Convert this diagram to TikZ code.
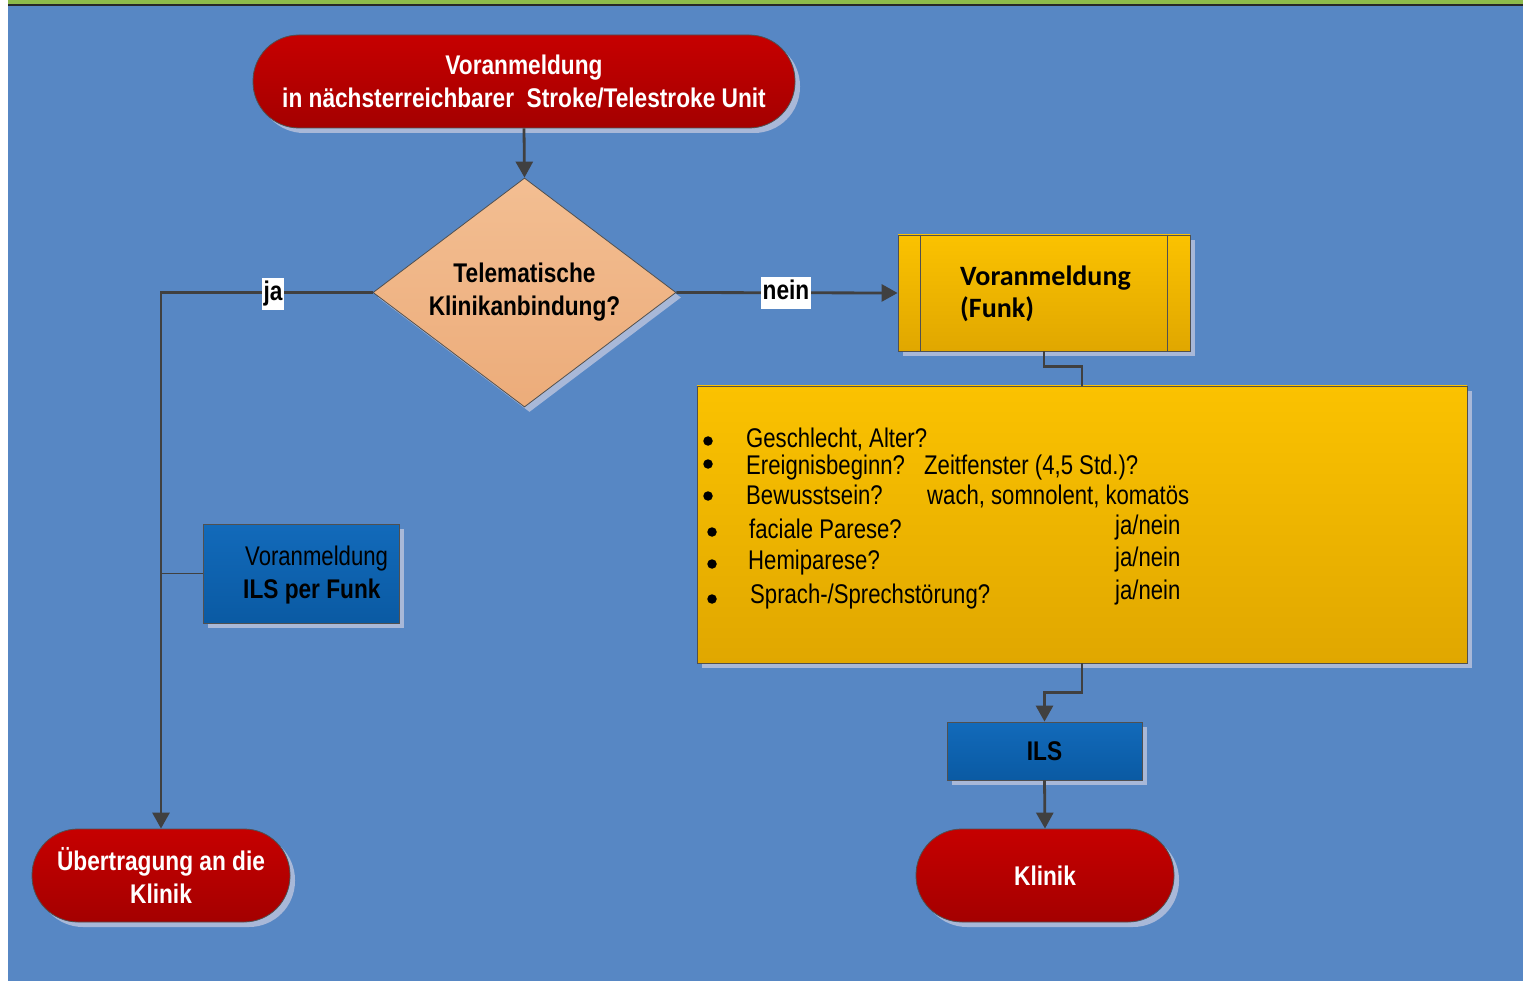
\documentclass[tikz,border=0pt]{standalone}
\usepackage{fontspec}
\setmainfont{Liberation Sans}
\newfontfamily\narrow[FakeStretch=0.82,BoldFeatures={FakeStretch=0.84}]{Liberation Sans}
\newfontfamily\calib{Carlito}
\usetikzlibrary{shapes.geometric,arrows.meta,shadows}
\definecolor{bgc}{RGB}{87,135,196}
\definecolor{greenc}{RGB}{141,187,76}
\definecolor{darkl}{RGB}{40,40,40}
\definecolor{redT}{RGB}{198,0,0}
\definecolor{redB}{RGB}{164,0,0}
\definecolor{goldT}{RGB}{251,194,0}
\definecolor{goldB}{RGB}{224,167,0}
\definecolor{blueT}{RGB}{18,106,186}
\definecolor{blueB}{RGB}{10,90,163}
\definecolor{peachT}{RGB}{243,190,146}
\definecolor{peachB}{RGB}{236,172,122}
\definecolor{shadc}{RGB}{168,184,216}
\definecolor{linec}{RGB}{64,64,64}
\definecolor{bordc}{RGB}{80,80,80}
\begin{document}
\begin{tikzpicture}[x=1pt,y=-1pt,
  conn/.style={draw=linec,line width=2.8pt},
  tip/.style={-{Triangle[length=16pt,width=17pt]}},
  shad/.style={drop shadow={shadow xshift=5pt,shadow yshift=-5pt,fill=shadc,opacity=1}},
  term/.style={shad,rectangle,rounded corners=46pt,top color=redT,bottom color=redB,
    draw=bordc,line width=0.8pt,text=white,
    font=\narrow\bfseries\fontsize{27}{33}\selectfont,align=center,inner sep=0pt},
  goldbox/.style={shad,rectangle,top color=goldT,bottom color=goldB,draw=bordc,line width=0.8pt,inner sep=0pt},
  bluebox/.style={shad,rectangle,top color=blueT,bottom color=blueB,draw=bordc,line width=0.8pt,inner sep=0pt},
  lbl/.style={fill=white,inner xsep=2pt,inner ysep=3pt,font=\narrow\bfseries\fontsize{27}{30}\selectfont,text height=20pt,text depth=6pt},
  lst/.style={anchor=base west,inner sep=0pt,font=\narrow\fontsize{27}{33}\selectfont},
  bul/.style={circle,fill=black,inner sep=0pt,minimum size=9.5pt},
  txt/.style={anchor=base west,inner sep=0pt}
]
\useasboundingbox (0,0) rectangle (1537,981);
\fill[white] (0,0) rectangle (1537,981);
\fill[bgc] (8,6) rectangle (1523,981);
\fill[greenc] (8,0) rectangle (1523,4.3);
\fill[darkl] (8,4.3) rectangle (1523,6.3);

% nodes
\node[term,minimum width=542pt,minimum height=93pt] (top) at (524,81.5)
  {Voranmeldung\\in nächsterreichbarer\ \ Stroke/Telestroke Unit};
\node[shad,diamond,aspect=1.32,minimum width=303pt,minimum height=229pt,inner sep=0pt,
  top color=peachT,bottom color=peachB,draw=bordc,line width=0.8pt,
  font=\narrow\bfseries\fontsize{27}{33}\selectfont,align=center] (dia) at (524.5,292.5)
  {Telematische\\Klinikanbindung?};
\node[goldbox,minimum width=292pt,minimum height=116pt] (funk) at (1044,293) {};
\draw[bordc,line width=0.8pt] ([xshift=23pt]funk.north west) -- ([xshift=23pt]funk.south west);
\draw[bordc,line width=0.8pt] ([xshift=-23pt]funk.north east) -- ([xshift=-23pt]funk.south east);
\node[txt,font=\calib\bfseries\fontsize{28}{32}\selectfont] (funkA) at (960,286) {Voranmeldung};
\node[txt,font=\calib\bfseries\fontsize{28}{32}\selectfont] (funkB) at (960,318) {(Funk)};

\node[goldbox,minimum width=770pt,minimum height=277pt] (big) at (1082,524.5) {};
\node[bul] (b1) at (708,441) {};
\node[bul] (b2) at (708,464) {};
\node[bul] (b3) at (708,496) {};
\node[bul] (b4) at (712,532) {};
\node[bul] (b5) at (712,564) {};
\node[bul] (b6) at (712,599) {};
\node[lst] (l1) at (746,447) {Geschlecht, Alter?};
\node[lst] (l2) at (746,475) {Ereignisbeginn?};
\node[lst] (l2b) at (924,475) {Zeitfenster (4,5 Std.)?};
\node[lst] (l3) at (746,504) {Bewusstsein?};
\node[lst] (l3b) at (927,504) {wach, somnolent, komatös};
\node[lst] (l4) at (749,538) {faciale Parese?};
\node[lst] (l4b) at (1115,534) {ja/nein};
\node[lst] (l5) at (748,569) {Hemiparese?};
\node[lst] (l5b) at (1115,566) {ja/nein};
\node[lst] (l6) at (750,603) {Sprach-/Sprechstörung?};
\node[lst] (l6b) at (1115,599) {ja/nein};

\node[bluebox,minimum width=195pt,minimum height=58pt,font=\narrow\bfseries\fontsize{27}{33}\selectfont] (ils) at (1044.5,751) {ILS};
\node[term,minimum width=258pt,minimum height=93pt] (klinik) at (1045,875.5) {Klinik};
\node[term,minimum width=258pt,minimum height=93pt] (ueb) at (161,875.5) {Übertragung an die\\Klinik};

\node[bluebox,minimum width=196pt,minimum height=99pt] (ilsf) at (301,573.5) {};
\node[lst] (ilsfA) at (245,565) {Voranmeldung};
\node[lst,font=\narrow\bfseries\fontsize{27}{33}\selectfont] (ilsfB) at (243,598) {ILS per Funk};

% connectors
\draw[conn,tip] (top.south) -- (dia.north);
\draw[conn,tip] (dia.west) -| (ueb.north);
\draw[conn,tip] (dia.east) -- (funk.west);
\coordinate (tap) at (161,573.5);
\draw[draw=linec,line width=1pt] (tap) -- (ilsf.west);
\draw[conn] (funk.south) -- ++(0,15) -| (big.north);
\draw[conn,tip] (big.south) -- ++(0,29) -| (ils.north);
\draw[conn,tip] (ils.south) -- (klinik.north);

\node[lbl] (ja) at (273,294) {ja};
\node[lbl] (nein) at (786,293) {nein};
\end{tikzpicture}
\end{document}
